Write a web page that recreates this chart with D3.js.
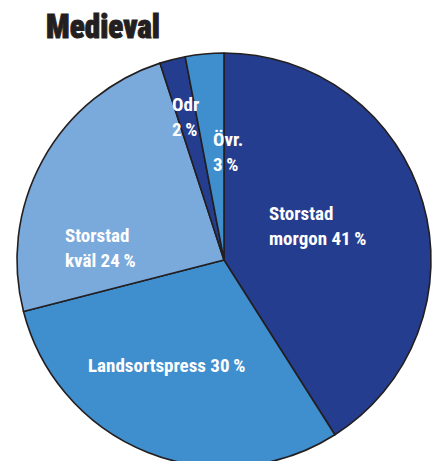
<!DOCTYPE html>
<html lang="en">

<head>
    <meta charset="utf-8">
    <script src="https://d3js.org/d3.v7.min.js"></script>
    <style>
        body { margin: 0; background: #fff; }
        text { font-family: "Liberation Sans Narrow", "Roboto Condensed", "DejaVu Sans Condensed", sans-serif; }
    </style>
</head>

<body>
    <script>
        // chart data, clockwise from 12 o'clock
        const categories = ["Storstad morgon", "Landsortspress", "Storstad kväl", "Odr", "Övr."];
        const shares = [41, 30, 24, 2, 3];
        const labelLines = [
            ["Storstad", "morgon 41\u2009%"],
            ["Landsortspress 30\u2009%"],
            ["Storstad", "kväl 24\u2009%"],
            ["Odr", "2\u2009%"],
            ["Övr.", "3\u2009%"]
        ];

        const width = 439,
            height = 461,
            cx = 224,
            cy = 260,
            radius = 207;

        // colours per slice
        const color = d3.scaleOrdinal()
            .domain(categories)
            .range(["#253d8f", "#3f8fcf", "#7aa9db", "#253d8f", "#3f8fcf"]);

        // label anchor (left edge of text, first baseline) relative to centre
        const labelPos = [
            [45, -40],
            [-136, 112],
            [-159, -18],
            [-52, -149],
            [-11, -114]
        ];

        const svg = d3.select("body")
            .append("svg")
            .attr("width", width)
            .attr("height", height);

        // title
        svg.append("text")
            .attr("x", 46)
            .attr("y", 38)
            .attr("font-size", 33)
            .attr("font-weight", "900")
            .attr("fill", "#231f20")
            .attr("stroke", "#231f20")
            .attr("stroke-width", 0.9)
            .attr("textLength", 114)
            .attr("lengthAdjust", "spacingAndGlyphs")
            .text("Medieval");

        const pie = d3.pie().sort(null);
        const arc = d3.arc().innerRadius(0).outerRadius(radius);

        const g = svg.append("g")
            .attr("transform", "translate(" + cx + "," + cy + ")");

        g.selectAll("path")
            .data(pie(shares))
            .enter()
            .append("path")
            .attr("d", arc)
            .attr("fill", (d, i) => color(categories[i]))
            .attr("stroke", "#231f20")
            .attr("stroke-width", 1.6)
            .attr("stroke-linejoin", "round");

        // slice labels
        const labels = g.selectAll(".lbl")
            .data(labelLines)
            .enter()
            .append("text")
            .attr("class", "lbl")
            .attr("fill", "#fff")
            .attr("font-size", 19)
            .attr("font-weight", "bold")
            .attr("transform", (d, i) => "translate(" + labelPos[i][0] + "," + labelPos[i][1] + ")");

        labels.selectAll("tspan")
            .data(d => d)
            .enter()
            .append("tspan")
            .attr("x", 0)
            .attr("y", (d, i) => i * 25)
            .text(d => d);
    </script>
</body>

</html>
